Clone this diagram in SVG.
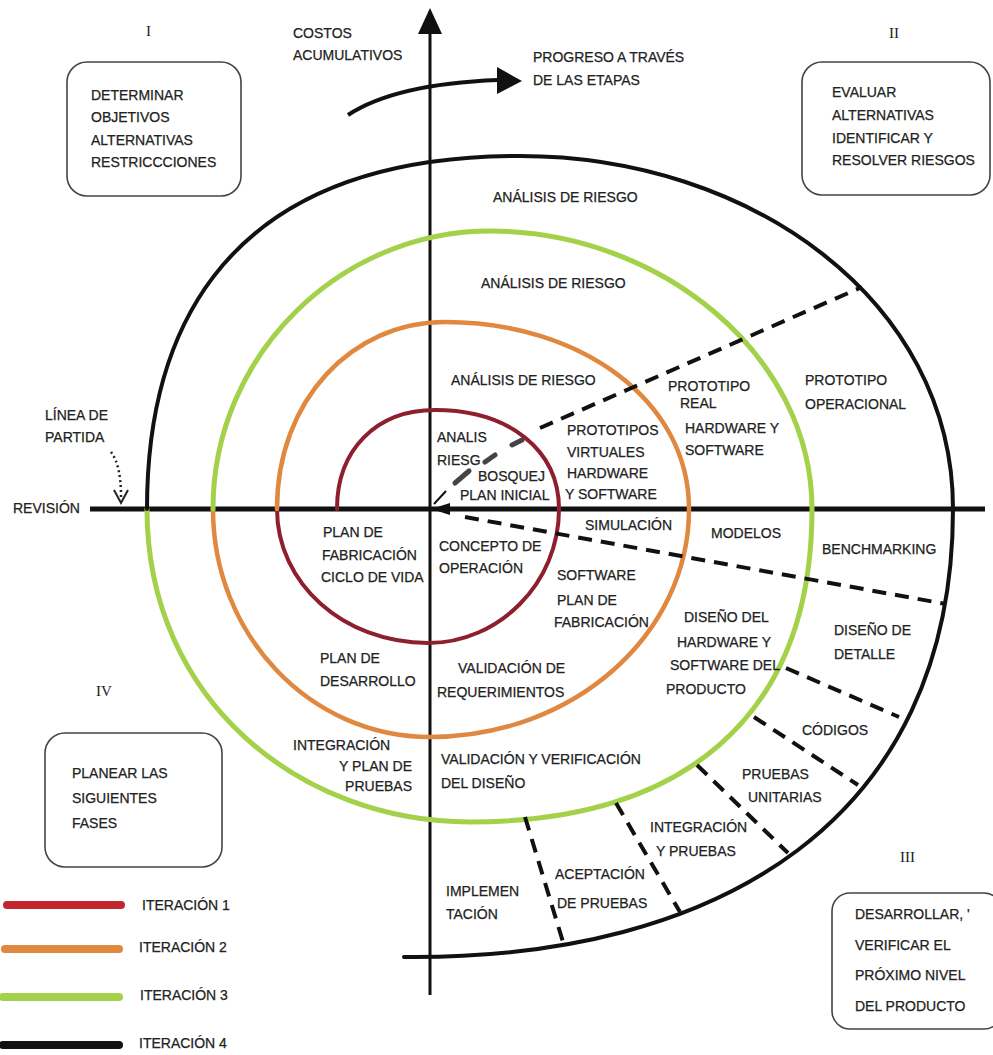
<svg xmlns="http://www.w3.org/2000/svg" width="993" height="1055" viewBox="0 0 993 1055">
<style>
.t{font-family:"Liberation Sans",Arial,sans-serif;font-size:14px;fill:#222;stroke:#222;stroke-width:0.25}
.r{font-family:"Liberation Serif","Times New Roman",serif;font-size:15px;fill:#222}
.box{fill:#fff;stroke:#444;stroke-width:1.6}
.dash{fill:none;stroke:#111;stroke-width:4;stroke-dasharray:14 9}
.sp{fill:none;stroke-linecap:round}
</style>
<rect width="993" height="1055" fill="#fff"/>
<g id="connectors">
  <line x1="430" y1="20" x2="430" y2="995" stroke="#111" stroke-width="3"/>
  <polygon points="418,34 442,34 430,8" fill="#111"/>
  <line x1="90" y1="509" x2="985" y2="509" stroke="#111" stroke-width="5"/>
  <path d="M348,115 Q395,84 498,80" fill="none" stroke="#111" stroke-width="4"/>
  <polygon points="497,67 522,81 497,94" fill="#111"/>
  <path class="sp" d="M337,509 C337,450 376,410 435,410 C509,410 559,450 559,509 C559,583 499,643 428,643 C343,643 277,583 277,509" stroke="#8e1f2f" stroke-width="4"/>
  <path class="sp" d="M277,509 C277,400 352,322 445,322 C580,322 689,400 689,509 C689,635 573,737 430,737 C310,737 213,635 213,509" stroke="#e0883f" stroke-width="4.5"/>
  <path class="sp" d="M213,509 C213,355 340,231 490,231 C660,231 812,355 812,509 C812,720 680,822 470,822 C300,822 147,700 147,509" stroke="#a3d14a" stroke-width="5"/>
  <path class="sp" d="M147,509 C147,360 200,156 520,156 C750,156 953,300 953,509 C953,820 720,960 404,957" stroke="#111" stroke-width="4"/>
  <path class="dash" d="M540,428 L862,287"/>
  <g stroke="#444" stroke-width="5" stroke-linecap="round">
    <line x1="455" y1="483" x2="469" y2="471"/>
    <line x1="485" y1="462" x2="495" y2="455"/>
    <line x1="512" y1="445" x2="522" y2="440"/>
  </g>
  <line x1="446" y1="491" x2="434" y2="504" stroke="#111" stroke-width="2"/>
  <polygon points="431,509 450,503 450,515" fill="#111"/>
  <path class="dash" d="M465,517 L946,604"/>
  <path class="dash" d="M786,668 L899,717"/>
  <path class="dash" d="M754,717 L858,785"/>
  <path class="dash" d="M697,765 L788,853"/>
  <path class="dash" d="M616,803 L680,912"/>
  <path class="dash" d="M525,817 L563,942"/>
  <path d="M111,452 Q121,465 121,497" fill="none" stroke="#222" stroke-width="2.5" stroke-dasharray="2 3"/>
  <polyline points="114,490 121,503 128,490" fill="none" stroke="#222" stroke-width="2"/>
</g>
<g id="quadrant-I">
  <text class="r" x="146" y="36">I</text>
  <rect class="box" x="67" y="62" width="174" height="134" rx="20"/>
  <text class="t" x="91" y="100">DETERMINAR</text>
  <text class="t" x="91" y="122">OBJETIVOS</text>
  <text class="t" x="91" y="145">ALTERNATIVAS</text>
  <text class="t" x="91" y="167">RESTRICCCIONES</text>
</g>
<g id="quadrant-II">
  <text class="r" x="889" y="38">II</text>
  <rect class="box" x="802" y="62" width="188" height="133" rx="20"/>
  <text class="t" x="832" y="97">EVALUAR</text>
  <text class="t" x="832" y="120">ALTERNATIVAS</text>
  <text class="t" x="832" y="143">IDENTIFICAR Y</text>
  <text class="t" x="832" y="165">RESOLVER RIESGOS</text>
</g>
<g id="quadrant-III">
  <text class="r" x="900" y="862">III</text>
  <rect class="box" x="832" y="893" width="170" height="136" rx="18"/>
  <text class="t" x="855" y="919">DESARROLLAR, '</text>
  <text class="t" x="855" y="950">VERIFICAR EL</text>
  <text class="t" x="855" y="980">PRÓXIMO NIVEL</text>
  <text class="t" x="855" y="1011">DEL PRODUCTO</text>
</g>
<g id="quadrant-IV">
  <text class="r" x="96" y="696">IV</text>
  <rect class="box" x="45" y="733" width="177" height="134" rx="20"/>
  <text class="t" x="72" y="778">PLANEAR LAS</text>
  <text class="t" x="72" y="803">SIGUIENTES</text>
  <text class="t" x="72" y="828">FASES</text>
</g>
<g id="axis-labels">
  <text class="t" x="293" y="38">COSTOS</text>
  <text class="t" x="293" y="60">ACUMULATIVOS</text>
  <text class="t" x="533" y="62">PROGRESO A TRAVÉS</text>
  <text class="t" x="533" y="85">DE LAS ETAPAS</text>
  <text class="t" x="45" y="420">LÍNEA DE</text>
  <text class="t" x="45" y="442">PARTIDA</text>
  <text class="t" x="13" y="513">REVISIÓN</text>
</g>
<g id="spiral-labels">
  <text class="t" x="493" y="202">ANÁLISIS DE RIESGO</text>
  <text class="t" x="481" y="288">ANÁLISIS DE RIESGO</text>
  <text class="t" x="451" y="385">ANÁLISIS DE RIESGO</text>
  <text class="t" x="668" y="391">PROTOTIPO</text>
  <text class="t" x="680" y="408">REAL</text>
  <text class="t" x="685" y="433">HARDWARE Y</text>
  <text class="t" x="685" y="455">SOFTWARE</text>
  <text class="t" x="805" y="385">PROTOTIPO</text>
  <text class="t" x="805" y="409">OPERACIONAL</text>
  <text class="t" x="437" y="442">ANALIS</text>
  <text class="t" x="437" y="465">RIESG</text>
  <text class="t" x="567" y="435">PROTOTIPOS</text>
  <text class="t" x="567" y="457">VIRTUALES</text>
  <text class="t" x="567" y="478">HARDWARE</text>
  <text class="t" x="565" y="499">Y SOFTWARE</text>
  <text class="t" x="478" y="481">BOSQUEJ</text>
  <text class="t" x="460" y="500">PLAN INICIAL</text>
  <text class="t" x="585" y="530">SIMULACIÓN</text>
  <text class="t" x="711" y="538">MODELOS</text>
  <text class="t" x="822" y="554">BENCHMARKING</text>
  <text class="t" x="323" y="537">PLAN DE</text>
  <text class="t" x="322" y="560">FABRICACIÓN</text>
  <text class="t" x="321" y="582">CICLO DE VIDA</text>
  <text class="t" x="439" y="551">CONCEPTO DE</text>
  <text class="t" x="439" y="573">OPERACIÓN</text>
  <text class="t" x="557" y="580">SOFTWARE</text>
  <text class="t" x="557" y="605">PLAN DE</text>
  <text class="t" x="554" y="627">FABRICACIÓN</text>
  <text class="t" x="684" y="622">DISEÑO DEL</text>
  <text class="t" x="677" y="647">HARDWARE Y</text>
  <text class="t" x="670" y="670">SOFTWARE DEL</text>
  <text class="t" x="666" y="694">PRODUCTO</text>
  <text class="t" x="834" y="635">DISEÑO DE</text>
  <text class="t" x="834" y="659">DETALLE</text>
  <text class="t" x="320" y="663">PLAN DE</text>
  <text class="t" x="320" y="686">DESARROLLO</text>
  <text class="t" x="458" y="673">VALIDACIÓN DE</text>
  <text class="t" x="437" y="697">REQUERIMIENTOS</text>
  <text class="t" x="293" y="750">INTEGRACIÓN</text>
  <text class="t" x="412" y="771" text-anchor="end">Y PLAN DE</text>
  <text class="t" x="412" y="791" text-anchor="end">PRUEBAS</text>
  <text class="t" x="441" y="764">VALIDACIÓN Y VERIFICACIÓN</text>
  <text class="t" x="441" y="788">DEL DISEÑO</text>
  <text class="t" x="802" y="735">CÓDIGOS</text>
  <text class="t" x="742" y="779">PRUEBAS</text>
  <text class="t" x="748" y="802">UNITARIAS</text>
  <text class="t" x="650" y="832">INTEGRACIÓN</text>
  <text class="t" x="656" y="856">Y PRUEBAS</text>
  <text class="t" x="555" y="879">ACEPTACIÓN</text>
  <text class="t" x="557" y="908">DE PRUEBAS</text>
  <text class="t" x="446" y="896">IMPLEMEN</text>
  <text class="t" x="446" y="919">TACIÓN</text>
</g>
<g id="legend">
  <line x1="7" y1="905" x2="121" y2="905" stroke="#c1272d" stroke-width="8" stroke-linecap="round"/>
  <text class="t" x="142" y="910">ITERACIÓN 1</text>
  <line x1="5" y1="949" x2="119" y2="949" stroke="#e0883f" stroke-width="8" stroke-linecap="round"/>
  <text class="t" x="139" y="952">ITERACIÓN 2</text>
  <line x1="3" y1="997" x2="119" y2="997" stroke="#a3d14a" stroke-width="8" stroke-linecap="round"/>
  <text class="t" x="140" y="1000">ITERACIÓN 3</text>
  <line x1="3" y1="1045" x2="119" y2="1045" stroke="#111" stroke-width="8" stroke-linecap="round"/>
  <text class="t" x="139" y="1048">ITERACIÓN 4</text>
</g>
</svg>
